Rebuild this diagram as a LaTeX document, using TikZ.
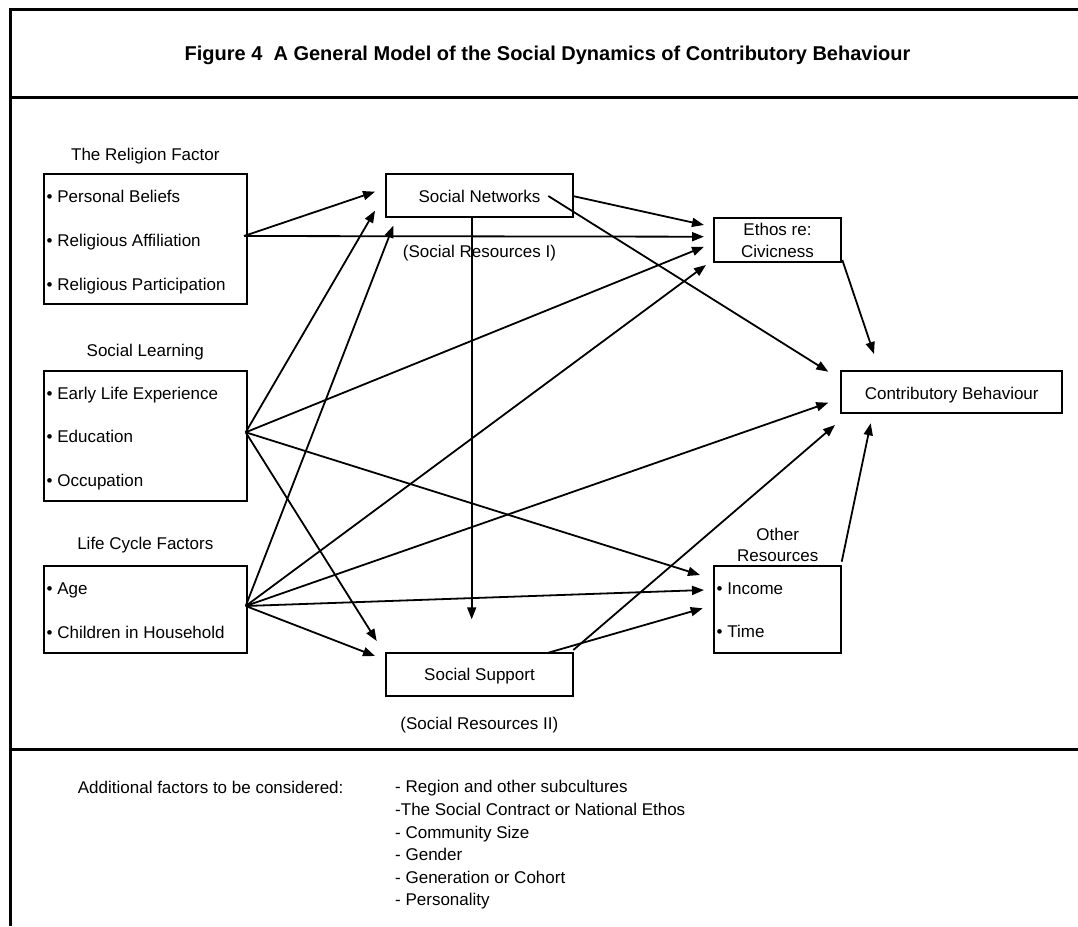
\documentclass[tikz,border=0pt]{standalone}
\usepackage{fontspec}
\setmainfont{Liberation Sans}
\usetikzlibrary{arrows.meta}
\begin{document}
\begin{tikzpicture}[x=1pt,y=-1pt,
  txt/.style={font=\fontsize{17}{20}\selectfont, inner sep=0pt, text height=12pt, text depth=0pt, anchor=center},
  itm/.style={txt, anchor=west},
  ttl/.style={font=\fontsize{20}{24}\selectfont\bfseries, inner sep=0pt, text height=14pt, text depth=0pt, anchor=center},
  boxn/.style={draw, line width=2.2pt, inner sep=0pt, minimum width=#1},
  arr/.style={line width=1.8pt, -{Triangle[length=12pt,width=9pt]}},
  framel/.style={line width=3pt}]
\useasboundingbox (0,0) rectangle (1078,926);

% frame
\draw[framel] (10,926) -- (10,9) -- (1078,9);
\draw[framel] (10,97) -- (1078,97);
\draw[framel] (10,749) -- (1078,749);

\node[ttl] (title) at (547.5,53) {Figure 4\ \ A General Model of the Social Dynamics of Contributory Behaviour};

% left boxes
\node[txt] (relL) at (145.3,154) {The Religion Factor};
\node[boxn=202.7pt, minimum height=130pt] (rel) at (145.35,239) {};
\node[itm] (rel1) at (46.5,196.7) {• Personal Beliefs};
\node[itm] (rel2) at (46.5,240.7) {• Religious Affiliation};
\node[itm] (rel3) at (46.5,284.3) {• Religious Participation};

\node[txt] (eduL) at (145.3,350.7) {Social Learning};
\node[boxn=202.7pt, minimum height=130pt] (edu) at (145.35,435.7) {};
\node[itm] (edu1) at (46.5,393.3) {• Early Life Experience};
\node[itm] (edu2) at (46.5,436.7) {• Education};
\node[itm] (edu3) at (46.5,480.7) {• Occupation};

\node[txt] (lifL) at (145.3,543.3) {Life Cycle Factors};
\node[boxn=202.7pt, minimum height=87.3pt] (lif) at (145.35,609.65) {};
\node[itm] (lif1) at (46.5,588.3) {• Age};
\node[itm] (lif2) at (46.5,632.7) {• Children in Household};

% middle boxes
\node[boxn=187pt, minimum height=43.3pt] (sn) at (479.2,195.65) {};
\node[txt] (snT) at (479.5,196) {Social Networks};
\node[txt] (snL) at (479.5,251.7) {(Social Resources I)};

\node[boxn=187pt, minimum height=43.3pt] (ss) at (479.5,674.35) {};
\node[txt] (ssT) at (479.5,674) {Social Support};
\node[txt] (ssL) at (479.3,723.3) {(Social Resources II)};

% right boxes
\node[boxn=127pt, minimum height=44pt] (eth) at (777.5,239.7) {};
\node[txt] (eth1) at (777.5,229.3) {Ethos re:};
\node[txt] (eth2) at (777.5,251) {Civicness};

\node[txt] (othL1) at (777.7,534) {Other};
\node[txt] (othL2) at (777.7,555) {Resources};
\node[boxn=127pt, minimum height=86.7pt] (oth) at (777.5,609.35) {};
\node[itm] (oth1) at (716.5,588.3) {• Income};
\node[itm] (oth2) at (716.5,631.7) {• Time};

\node[boxn=221.6pt, minimum height=42.6pt] (cb) at (951.5,392) {};
\node[txt] (cbT) at (951.7,393.3) {Contributory Behaviour};

% connector end points
\coordinate (relo) at (244,236);
\coordinate (eduo) at (245.7,432.3);
\coordinate (lifo) at (245.7,606);
\coordinate (snt) at (548.3,196);
\coordinate (snr) at (572.7,196);
\coordinate (snb) at (471.7,217.3);
\coordinate (sso1) at (548.3,652.7);
\coordinate (sso2) at (573.3,650);
\coordinate (etho) at (842.3,260);
\coordinate (otho) at (841.7,561.7);

\coordinate (t1) at (375,191.7);
\coordinate (t2) at (704,236.7);
\coordinate (t3) at (375,210.7);
\coordinate (t4) at (704,246.7);
\coordinate (t5) at (700,575);
\coordinate (t6) at (376.7,641);
\coordinate (t7) at (393.3,225.7);
\coordinate (t8) at (706,265);
\coordinate (t9) at (828.3,402.7);
\coordinate (t10) at (704,590);
\coordinate (t11) at (375,656);
\coordinate (t12) at (704,225);
\coordinate (t13) at (828.3,371.7);
\coordinate (t14) at (471.7,619.3);
\coordinate (t15) at (702.7,608.3);
\coordinate (t16) at (835,425);
\coordinate (t17) at (874,354);
\coordinate (t18) at (870.7,423.3);

% connectors
\draw[arr] (relo) -- (t1);
\draw[arr] (relo) -- (t2);
\draw[arr] (eduo) -- (t3);
\draw[arr] (eduo) -- (t4);
\draw[arr] (eduo) -- (t5);
\draw[arr] (eduo) -- (t6);
\draw[arr] (lifo) -- (t7);
\draw[arr] (lifo) -- (t8);
\draw[arr] (lifo) -- (t9);
\draw[arr] (lifo) -- (t10);
\draw[arr] (lifo) -- (t11);
\draw[arr] (snr) -- (t12);
\draw[arr] (snt) -- (t13);
\draw[arr] (snb) -- (t14);
\draw[arr] (sso1) -- (t15);
\draw[arr] (sso2) -- (t16);
\draw[arr] (etho) -- (t17);
\draw[arr] (otho) -- (t18);

% additional factors
\node[itm] (addL) at (77.7,787) {Additional factors to be considered:};
\node[itm] (a1) at (395,786.7) {- Region and other subcultures};
\node[itm] (a2) at (395,809.3) {-The Social Contract or National Ethos};
\node[itm] (a3) at (395,832.3) {- Community Size};
\node[itm] (a4) at (395,854.5) {- Gender};
\node[itm] (a5) at (395,877.3) {- Generation or Cohort};
\node[itm] (a6) at (395,899.5) {- Personality};
\end{tikzpicture}
\end{document}
